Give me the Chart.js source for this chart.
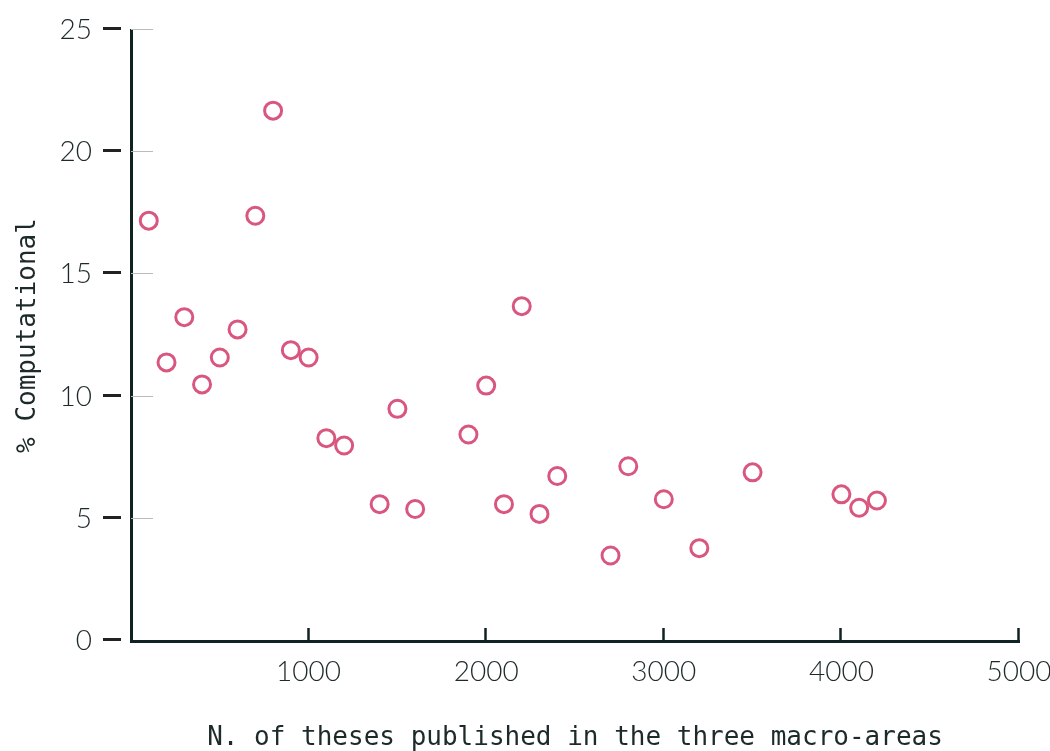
<!DOCTYPE html>
<html>
<head>
<meta charset="utf-8">
<script src="https://cdn.jsdelivr.net/npm/chart.js@4/dist/chart.umd.min.js"></script>
<style>
  html, body { margin: 0; padding: 0; background: #fff; }
  #wrap { width: 1050px; height: 751px; }
</style>
</head>
<body>
<div id="wrap"><canvas id="chart" width="1050" height="751"></canvas></div>
<script>
// データ
const theses = [100, 200, 300, 400, 500, 600, 700, 800, 900, 1000, 1100, 1200, 1400, 1500, 1600,
                1900, 2000, 2100, 2200, 2300, 2400, 2700, 2800, 3000, 3200, 3500, 4000, 4100, 4200];
const computational = [17.2, 11.4, 13.25, 10.5, 11.6, 12.75, 17.4, 21.7, 11.9, 11.6, 8.3, 8.0, 5.6, 9.5, 5.4,
                       8.45, 10.45, 5.6, 13.7, 5.2, 6.75, 3.5, 7.15, 5.8, 3.8, 6.9, 6.0, 5.45, 5.75];
const xTicks = [1000, 2000, 3000, 4000, 5000];
const yTicks = [0, 5, 10, 15, 20, 25];

const axisColor = '#102222';
const textColor = '#1e2a2a';
const pointColor = '#d9577f';
const monoFont = "'DejaVu Sans Mono', 'Liberation Mono', monospace";
const sansFont = "Lato, 'Liberation Sans', Arial, sans-serif";

// 軸の目盛り線を描くプラグイン
const axisMarks = {
    id: 'axisMarks',
    afterDraw(chart) {
        const ctx = chart.ctx;
        const x = chart.scales.x;
        const y = chart.scales.y;
        const area = chart.chartArea;
        ctx.save();
        yTicks.forEach(v => {
            const py = Math.round(y.getPixelForValue(v)) - 1.5;
            ctx.strokeStyle = '#222';
            ctx.lineWidth = 3;
            ctx.beginPath();
            ctx.moveTo(103, py);
            ctx.lineTo(121, py);
            ctx.stroke();
            if (v > 0) {
                ctx.strokeStyle = '#bbbbbb';
                ctx.lineWidth = 1;
                ctx.beginPath();
                ctx.moveTo(area.left, py + 1);
                ctx.lineTo(area.left + 22, py + 1);
                ctx.stroke();
            }
        });
        xTicks.forEach(v => {
            const px = Math.round(x.getPixelForValue(v)) - 0.5;
            ctx.strokeStyle = axisColor;
            ctx.lineWidth = 2.5;
            ctx.beginPath();
            ctx.moveTo(px, area.bottom);
            ctx.lineTo(px, area.bottom - 13);
            ctx.stroke();
        });
        ctx.restore();
    }
};

new Chart(document.getElementById('chart'), {
    type: 'scatter',
    data: {
        datasets: [{
            data: theses.map((t, i) => ({ x: t, y: computational[i] })),
            pointRadius: 8.5,
            pointBorderWidth: 3,
            pointBorderColor: pointColor,
            pointBackgroundColor: 'rgba(255,255,255,0)',
            pointHoverRadius: 8.5
        }]
    },
    options: {
        responsive: false,
        animation: false,
        layout: { padding: { top: 30, right: 31, left: 0, bottom: 0 } },
        plugins: { legend: { display: false }, tooltip: { enabled: false } },
        scales: {
            x: {
                type: 'linear',
                min: 0,
                max: 5000,
                afterFit: s => { s.height = 110; s.paddingLeft = 0; s.paddingRight = 0; },
                grid: { display: false },
                border: { display: true, color: axisColor, width: 3 },
                ticks: {
                    stepSize: 1000,
                    padding: 6,
                    maxRotation: 0,
                    color: textColor,
                    font: { family: sansFont, size: 28, weight: 300 },
                    callback: v => (v === 0 ? '' : v)
                },
                title: {
                    display: true,
                    text: 'N. of theses published in the three macro-areas',
                    color: textColor,
                    font: { family: monoFont, size: 26, lineHeight: 1 },
                    padding: { top: 0, bottom: 0 }
                }
            },
            y: {
                min: 0,
                max: 25,
                afterFit: s => { s.width = 131; s.paddingTop = 0; s.paddingBottom = 0; },
                grid: { display: false },
                border: { display: true, color: axisColor, width: 3 },
                ticks: {
                    stepSize: 5,
                    padding: 31,
                    color: textColor,
                    font: { family: sansFont, size: 28, weight: 300 }
                },
                title: {
                    display: true,
                    text: '% Computational',
                    color: textColor,
                    font: { family: monoFont, size: 26 },
                    padding: { top: 13, bottom: 0 }
                }
            }
        }
    },
    plugins: [axisMarks]
});
</script>
</body>
</html>
